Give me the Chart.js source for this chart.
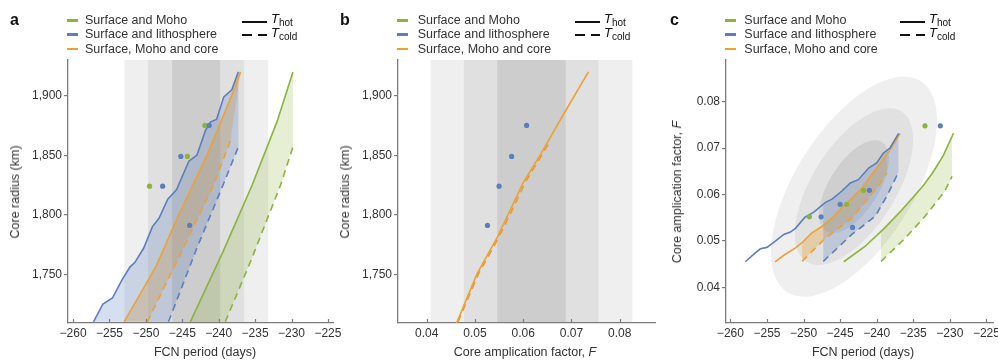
<!DOCTYPE html>
<html>
<head>
<meta charset="utf-8">
<script src="https://cdn.jsdelivr.net/npm/chart.js@4.4.1/dist/chart.umd.min.js"></script>
<style>
body { margin: 0; background: #fff; font-family: "Liberation Sans", Arial, sans-serif; color: #333; }
#wrap { position: relative; width: 998px; height: 360px; overflow: hidden; }
canvas { position: absolute; top: 0; }
.t { position: absolute; white-space: nowrap; font-size: 12.5px; line-height: 14px; }
.rot { transform: translate(-50%, -50%) rotate(-90deg); }
.hx { transform: translate(-50%, -50%); }
.sw { position: absolute; height: 2.5px; }
.letter { position: absolute; font-weight: bold; font-size: 16px; line-height: 16px; color: #111; }
sub { font-size: 10px; vertical-align: -3px; line-height: 0; font-style: normal; }
</style>
</head>
<body>
<div id="wrap">
  <canvas id="ca" width="348" height="360" style="left:0"></canvas>
  <canvas id="cb" width="340" height="360" style="left:330px"></canvas>
  <canvas id="cc" width="338" height="360" style="left:660px"></canvas>
</div>
<script>
// ---- panel a : core radius vs FCN period ----
var blueHotA_x = [-257.2, -255.9, -254.6, -253.3, -252.2, -251.5, -250.3, -249.1, -248.2, -247.0, -245.8, -244.1, -243.0, -241.8, -241.1, -240.3, -239.3, -238.2, -237.3];
var blueHotA_r = [1710, 1725, 1730, 1745, 1756, 1760, 1772, 1790, 1797, 1813, 1821, 1845, 1850, 1871, 1878, 1880, 1899, 1905, 1920];
var blueColdA_x = [-246.9, -243.0, -239.4, -237.3];
var blueColdA_r = [1710, 1772, 1825, 1857];
var orangeHotA_x = [-253.0, -250.8, -248.5, -245.7, -243.7, -241.6, -239.3, -237.9, -237.0];
var orangeHotA_r = [1710, 1733, 1758, 1797, 1823, 1850, 1884, 1905, 1920];
var orangeColdA_x = [-249.8, -246.6, -243.6, -240.7, -238.4];
var orangeColdA_r = [1710, 1750, 1788, 1825, 1862];
var greenHotA_x = [-243.9, -239.4, -235.4, -232.0, -229.8];
var greenHotA_r = [1710, 1769, 1825, 1878, 1920];
var greenColdA_x = [-239.1, -235.6, -231.5, -229.8];
var greenColdA_r = [1710, 1761, 1825, 1857];
var blueDotsA_x = [-241.3, -245.2, -247.7, -244.0];
var blueDotsA_r = [1875, 1849, 1824, 1791];
var greenDotsA_x = [-241.9, -244.3, -249.5];
var greenDotsA_r = [1875, 1849, 1824];

// ---- panel b : core radius vs amplification factor ----
var orangeHotB_f = [0.0462, 0.0504, 0.0545, 0.0572, 0.0600, 0.0635, 0.0683, 0.0735];
var orangeHotB_r = [1709, 1750, 1780, 1803, 1827, 1850, 1884, 1920];
var orangeColdB_f = [0.0465, 0.0507, 0.0548, 0.0576, 0.0604, 0.0656];
var orangeColdB_r = [1710, 1750, 1780, 1803, 1827, 1862];
var blueDotsB_f = [0.0526, 0.0550, 0.0576, 0.0607];
var blueDotsB_r = [1791, 1824, 1849, 1875];

// ---- panel c : amplification factor vs FCN period ----
var blueHotC_x = [-257.95, -256.6, -255.9, -255.0, -253.9, -252.7, -251.8, -251.1, -249.8, -248.6, -247.0, -246.1, -244.8, -243.6, -242.5, -241.1, -240.0, -239.1, -238.2, -237.0];
var blueHotC_f = [0.0455, 0.0474, 0.0483, 0.0486, 0.0499, 0.0514, 0.0519, 0.0527, 0.0551, 0.0562, 0.0583, 0.0590, 0.0607, 0.0625, 0.0632, 0.0657, 0.0668, 0.0689, 0.0700, 0.0732];
var blueColdC_x = [-247.3, -243.4, -240.2, -238.5, -237.0];
var blueColdC_f = [0.0456, 0.0514, 0.0553, 0.0600, 0.0649];
var orangeHotC_x = [-253.9, -252.7, -251.1, -250.2, -248.9, -247.5, -246.1, -244.8, -243.4, -242.0, -240.7, -239.3, -238.0, -236.8];
var orangeHotC_f = [0.0455, 0.0469, 0.0485, 0.0496, 0.0517, 0.0531, 0.0549, 0.0571, 0.0592, 0.0614, 0.0642, 0.0671, 0.0700, 0.0732];
var orangeColdC_x = [-250.2, -247.0, -243.4, -239.8, -238.6];
var orangeColdC_f = [0.0456, 0.0506, 0.0549, 0.0618, 0.0646];
var greenHotC_x = [-244.5, -241.6, -238.9, -236.6, -234.8, -233.6, -232.3, -230.9, -229.5];
var greenHotC_f = [0.0455, 0.0488, 0.0528, 0.0566, 0.0598, 0.0620, 0.0648, 0.0684, 0.0732];
var greenColdC_x = [-239.4, -236.1, -233.4, -230.7, -229.7];
var greenColdC_f = [0.0456, 0.0506, 0.0553, 0.0607, 0.0639];
var blueDotsC_x = [-231.3, -247.6, -245.0, -241.0, -243.3];
var blueDotsC_f = [0.0748, 0.0552, 0.0579, 0.0609, 0.0529];
var greenDotsC_x = [-233.4, -249.2, -244.1, -241.8];
var greenDotsC_f = [0.0748, 0.0552, 0.0579, 0.0609];

// observed ranges (1, 2, 3 sigma) and the 2D confidence ellipses
var fcnBands = [[-252.95, -233.2], [-249.7, -236.5], [-246.4, -239.8]];
var ampBands = [[0.0408, 0.0826], [0.0477, 0.0756], [0.0546, 0.0688]];
var ellCenter = [-243.1, 0.0617];
var ellSigma = [3.3, 0.0069];
var ellRho = 0.6;
var ellLevels = [3.44, 2.45, 1.45];

// ticks
var fcnTicks = [-260, -255, -250, -245, -240, -235, -230, -225];
var fcnLabels = ['\u2212260', '\u2212255', '\u2212250', '\u2212245', '\u2212240', '\u2212235', '\u2212230', '\u2212225'];
var radTicks = [1750, 1800, 1850, 1900];
var radLabels = ['1,750', '1,800', '1,850', '1,900'];
var ampTicks = [0.04, 0.05, 0.06, 0.07, 0.08];
var ampLabels = ['0.04', '0.05', '0.06', '0.07', '0.08'];

var groupNames = ['Surface and Moho', 'Surface and lithosphere', 'Surface, Moho and core'];

var C = { green: '#8cb33b', blue: '#5b7fbe', orange: '#eda133' };
var FILL = { green: 'rgba(141,179,58,0.22)', blue: 'rgba(91,127,190,0.25)', orange: 'rgba(237,161,51,0.32)' };
var AXIS = '#7c7c7c';
var bandColors = ['#efefef', '#e0e0e0', '#cdcdcd'];
var ellColors = ['#efefef', '#e1e1e1', '#cfcfcf'];

Chart.defaults.font.family = '"Liberation Sans", Arial, sans-serif';
Chart.defaults.font.size = 12;
Chart.defaults.color = '#333';
Chart.defaults.animation = false;

function pts(xs, ys) {
	return xs.map(function(x, i) { return { x: x, y: ys[i] }; });
}
function line(xs, ys, color, dashed, fill, fillColor) {
	return {
		data: pts(xs, ys), showLine: true, borderColor: color, borderWidth: 1.6,
		borderDash: dashed ? [7, 5] : [], pointRadius: 0, tension: 0,
		fill: fill || false, backgroundColor: fillColor || 'rgba(0,0,0,0)', order: 2
	};
}
function shape(hx, hy, cx, cy, fillColor) {
	return {
		data: pts(hx, hy).concat(pts(cx, cy).reverse()), showLine: true,
		borderWidth: 0, borderColor: 'rgba(0,0,0,0)', pointRadius: 0,
		fill: 'shape', backgroundColor: fillColor, order: 3
	};
}
function dots(xs, ys, color) {
	return {
		data: pts(xs, ys), showLine: false, pointRadius: 2.6, pointBorderWidth: 0,
		pointBackgroundColor: color, backgroundColor: color, borderColor: color, order: 1
	};
}
function axis(min, max, ticks, labels, isY, size) {
	return {
		type: 'linear', min: min, max: max,
		afterBuildTicks: function(s) { s.ticks = ticks.map(function(v) { return { value: v }; }); },
		afterFit: function(s) {
			if (isY) s.width = size; else s.height = size;
			s.paddingLeft = 0; s.paddingRight = 0; s.paddingTop = 0; s.paddingBottom = 0;
		},
		ticks: { padding: isY ? 2 : 3, autoSkip: false, maxRotation: 0, callback: function(v, i) { return labels[i]; } },
		grid: isY ? { drawOnChartArea: false, drawTicks: true, tickLength: 4, color: AXIS, lineWidth: 1.2 }
			: { display: false, drawTicks: false },
		border: { display: true, color: AXIS, width: 1.3 }
	};
}

// x ticks point into the plot
var inwardTicks = {
	id: 'inwardTicks',
	afterDraw: function(chart) {
		var xs = chart.scales.x, ctx = chart.ctx, b = chart.chartArea.bottom;
		ctx.save();
		ctx.strokeStyle = AXIS; ctx.lineWidth = 1.2;
		xs.ticks.forEach(function(t) {
			var p = Math.round(xs.getPixelForValue(t.value)) + 0.5;
			ctx.beginPath(); ctx.moveTo(p, b); ctx.lineTo(p, b - 4); ctx.stroke();
		});
		ctx.restore();
	}
};
function bandPlugin(bands) {
	return {
		id: 'bands',
		beforeDraw: function(chart) {
			var xs = chart.scales.x, a = chart.chartArea, ctx = chart.ctx;
			ctx.save();
			bands.forEach(function(b, i) {
				var x0 = xs.getPixelForValue(b[0]), x1 = xs.getPixelForValue(b[1]);
				ctx.fillStyle = bandColors[i];
				ctx.fillRect(x0, a.top, x1 - x0, a.bottom - a.top);
			});
			ctx.restore();
		}
	};
}
var ellipsePlugin = {
	id: 'ellipses',
	beforeDraw: function(chart) {
		var xs = chart.scales.x, ys = chart.scales.y, ctx = chart.ctx, a = chart.chartArea;
		var cx = xs.getPixelForValue(ellCenter[0]), cy = ys.getPixelForValue(ellCenter[1]);
		var sx = xs.getPixelForValue(ellCenter[0] + ellSigma[0]) - cx;
		var sy = ys.getPixelForValue(ellCenter[1] + ellSigma[1]) - cy;
		var vxx = sx * sx, vyy = sy * sy, vxy = ellRho * sx * sy;
		var ang = 0.5 * Math.atan2(2 * vxy, vxx - vyy);
		var m = (vxx + vyy) / 2, d = Math.sqrt((vxx - vyy) * (vxx - vyy) / 4 + vxy * vxy);
		var l1 = Math.sqrt(m + d), l2 = Math.sqrt(m - d);
		ctx.save();
		ctx.beginPath(); ctx.rect(a.left, a.top, a.right - a.left, a.bottom - a.top); ctx.clip();
		ellLevels.forEach(function(k, i) {
			ctx.fillStyle = ellColors[i];
			ctx.beginPath(); ctx.ellipse(cx, cy, k * l1, k * l2, ang, 0, 2 * Math.PI); ctx.fill();
		});
		ctx.restore();
	}
};

function options(xAxis, yAxis, padRight) {
	return {
		responsive: false, events: [],
		layout: { padding: { top: 60, left: 0, right: padRight, bottom: 0 } },
		plugins: { legend: { display: false }, tooltip: { enabled: false }, filler: { drawTime: 'beforeDatasetsDraw' } },
		scales: { x: xAxis, y: yAxis }
	};
}

new Chart(document.getElementById('ca'), {
	type: 'line',
	data: { datasets: [
		dots(blueDotsA_x, blueDotsA_r, C.blue),
		dots(greenDotsA_x, greenDotsA_r, C.green),
		shape(blueHotA_x, blueHotA_r, blueColdA_x, blueColdA_r, FILL.blue),
		shape(orangeHotA_x, orangeHotA_r, orangeColdA_x, orangeColdA_r, FILL.orange),
		shape(greenHotA_x, greenHotA_r, greenColdA_x, greenColdA_r, FILL.green),
		line(blueHotA_x, blueHotA_r, C.blue),
		line(blueColdA_x, blueColdA_r, C.blue, true),
		line(orangeHotA_x, orangeHotA_r, C.orange),
		line(orangeColdA_x, orangeColdA_r, C.orange, true),
		line(greenHotA_x, greenHotA_r, C.green),
		line(greenColdA_x, greenColdA_r, C.green, true)
	] },
	options: options(axis(-260.7, -224.3, fcnTicks, fcnLabels, false, 37), axis(1709, 1930, radTicks, radLabels, true, 68), 15),
	plugins: [bandPlugin(fcnBands), inwardTicks]
});

new Chart(document.getElementById('cb'), {
	type: 'line',
	data: { datasets: [
		dots(blueDotsB_f, blueDotsB_r, C.blue),
		line(orangeHotB_f, orangeHotB_r, C.orange),
		line(orangeColdB_f, orangeColdB_r, '#e39a2e', true)
	] },
	options: options(axis(0.03406, 0.0873, ampTicks, ampLabels, false, 37), axis(1709, 1930, radTicks, radLabels, true, 68), 15),
	plugins: [bandPlugin(ampBands), inwardTicks]
});

new Chart(document.getElementById('cc'), {
	type: 'line',
	data: { datasets: [
		line(greenHotC_x, greenHotC_f, C.green, false, '+1', FILL.green),
		line(greenColdC_x, greenColdC_f, C.green, true),
		line(blueHotC_x, blueHotC_f, C.blue, false, '+1', FILL.blue),
		line(blueColdC_x, blueColdC_f, C.blue, true),
		line(orangeHotC_x, orangeHotC_f, C.orange, false, '+1', FILL.orange),
		line(orangeColdC_x, orangeColdC_f, C.orange, true),
		dots(blueDotsC_x, blueDotsC_f, C.blue),
		dots(greenDotsC_x, greenDotsC_f, C.green)
	] },
	options: options(axis(-260.6, -224.1, fcnTicks, fcnLabels, false, 37), axis(0.0323, 0.089, ampTicks, ampLabels, true, 66), 5),
	plugins: [ellipsePlugin, inwardTicks]
});

// ---- text: panel letters, legends, axis titles ----
var wrap = document.getElementById('wrap');
function put(cls, html, css) {
	var d = document.createElement('div');
	d.className = cls; d.innerHTML = html;
	for (var k in css) d.style[k] = css[k];
	wrap.appendChild(d);
	return d;
}
var groupColors = [C.green, C.blue, C.orange];
var rowY = [20.7, 34.4, 49];
function legend(axisX, textOff, tOff) {
	groupNames.forEach(function(name, i) {
		put('sw', '', { left: (axisX - 1.3) + 'px', top: (rowY[i] - 1.25) + 'px', width: '11.5px', background: groupColors[i] });
		put('t', name, { left: (axisX + textOff) + 'px', top: (rowY[i] - 7.5) + 'px' });
	});
	var lx = axisX + tOff;
	put('sw', '', { left: lx + 'px', top: '20.5px', width: '25px', height: '2px', background: '#111' });
	put('sw', '', { left: lx + 'px', top: '33.5px', width: '10px', height: '2px', background: '#111' });
	put('sw', '', { left: (lx + 15.5) + 'px', top: '33.5px', width: '9.5px', height: '2px', background: '#111' });
	put('t', '<i>T</i><sub>hot</sub>', { left: (lx + 29) + 'px', top: '12px', fontSize: '13px', color: '#111' });
	put('t', '<i>T</i><sub>cold</sub>', { left: (lx + 29) + 'px', top: '26px', fontSize: '13px', color: '#111' });
}
put('letter', 'a', { left: '10px', top: '12px' });
put('letter', 'b', { left: '340px', top: '12px' });
put('letter', 'c', { left: '670px', top: '12px' });
legend(68, 17, 174);
legend(398, 19.7, 177);
legend(726, 18.3, 174);

put('t hx', 'FCN period (days)', { left: '205px', top: '351.7px' });
put('t hx', 'Core amplication factor, <i>F</i>', { left: '525px', top: '351.7px' });
put('t hx', 'FCN period (days)', { left: '863px', top: '351.7px' });
put('t rot', 'Core radius (km)', { left: '15px', top: '191.5px' });
put('t rot', 'Core radius (km)', { left: '345px', top: '191.5px' });
put('t rot', 'Core amplication factor, <i>F</i>', { left: '676.7px', top: '191.5px' });
</script>
</body>
</html>
